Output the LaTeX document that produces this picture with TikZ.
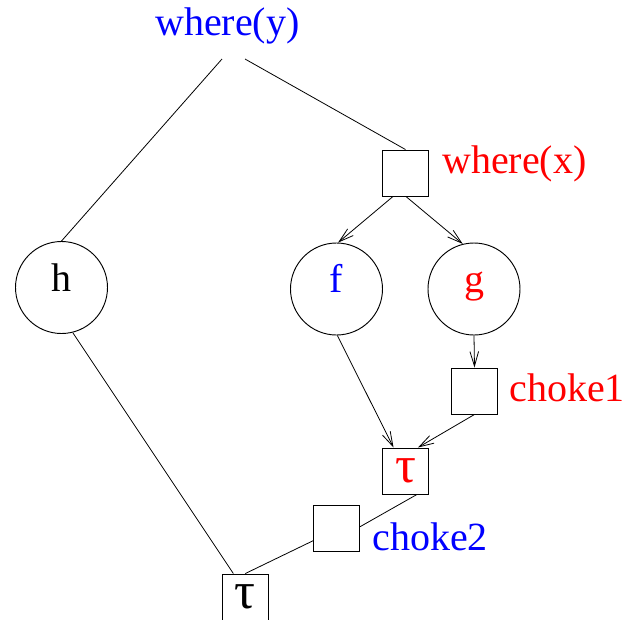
\documentclass[tikz,border=0pt]{standalone}
\usepackage{fontspec}
\setmainfont{Liberation Serif}
\usetikzlibrary{arrows.meta}

\begin{document}
\begin{tikzpicture}[x=0.75pt,y=0.75pt,yscale=-1,xscale=1,
  font=\fontsize{30}{36}\selectfont,
  fn/.style={draw, circle, line width=0.7pt, minimum size=69pt, inner sep=0pt, text height=0.7em, text depth=0.12em},
  sq/.style={draw, rectangle, line width=0.7pt, minimum size=34.5pt, inner sep=0pt},
  tau/.style={sq, font=\fontsize{39}{44}\selectfont},
  lbl/.style={anchor=base west, inner sep=0pt},
  arr/.style={-{Straight Barb[length=11pt,width=6.5pt]}},
  ln/.style={line width=0.6pt}]
\useasboundingbox (0,0) rectangle (626,619);
\clip (0,0) rectangle (626,619);

% Text Node
\node (wy) [lbl, blue] at (155,35.7) {where(y)};
\coordinate (wyl) at (222,59);
\coordinate (wyr) at (245,59);

%Shape: Square
\node (wx) [sq] at (405.5,173) {};
\node (wxl) [lbl, red] at (442,173) {where(x)};

%Shape: Circle
\node (h) [fn] at (61.5,287.5) {h};
\node (f) [fn, text=blue] at (336.5,289) {f};
\node (g) [fn, text=red] at (474,289) {g};

%Shape: Square
\node (c1) [sq] at (474.5,391) {};
\node (c1l) [lbl, red] at (509,401.7) {choke1};
\node (rtau) [tau, text=red] at (405.5,471) {τ};
\node (c2) [sq] at (336.7,528.7) {};
\node (c2l) [lbl, blue] at (372,550.7) {choke2};
\node (btau) [tau] at (245.3,597) {τ};

%Straight Lines
\draw [ln] (wyl) -- (h.north) ;
\draw [ln] (wyr) -- (wx.north) ;
\draw [ln, arr] (wx.-118) -- (f.88) ;
\draw [ln, arr] (wx.-89) -- (g.104) ;
\draw [ln, arr] (f.-89) -- (rtau.117) ;
\draw [ln, arr] (g.south) -- (c1.north) ;
\draw [ln, arr] (c1.south) -- (rtau.62) ;
\draw [ln] (rtau.-64) -- (c2.5) ;
\draw [ln] (c2.207) -- (btau.north) ;
\draw [ln] (h.-76) -- (btau.117) ;

\end{tikzpicture}
\end{document}
